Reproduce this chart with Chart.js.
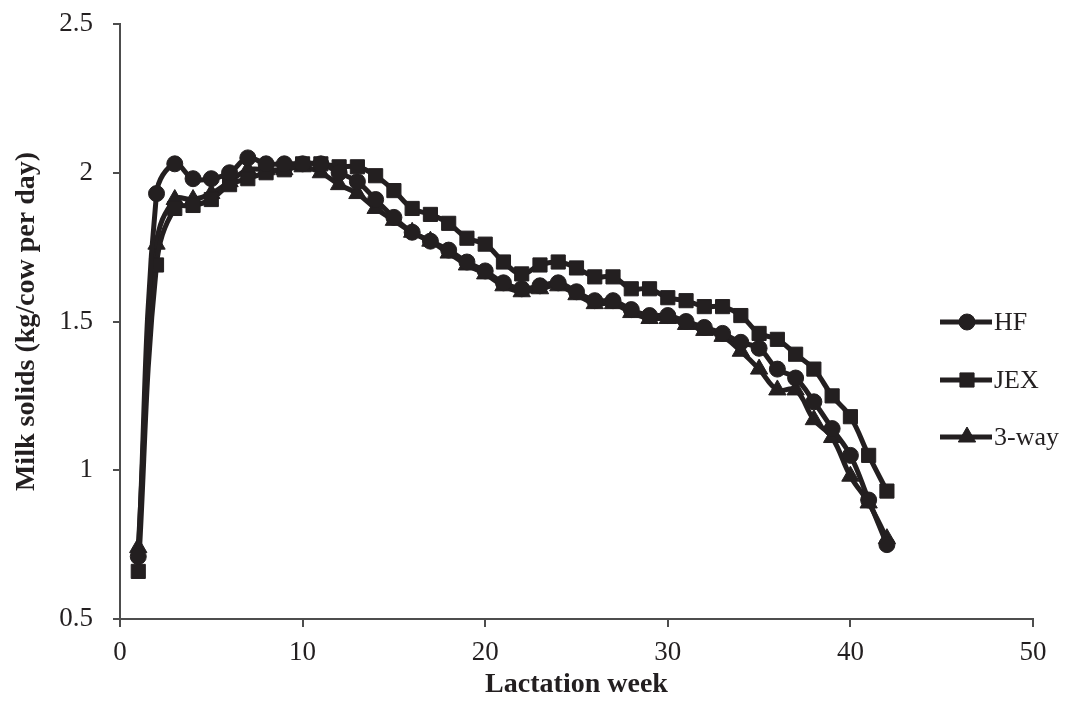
<!DOCTYPE html>
<html>
<head>
<meta charset="utf-8">
<script src="https://cdn.jsdelivr.net/npm/chart.js@4.4.0/dist/chart.umd.min.js"></script>
<style>
    html, body { margin: 0; padding: 0; background: #ffffff; }
    #wrap { position: relative; width: 1070px; height: 706px; }
</style>
</head>
<body>
<div id="wrap"><canvas id="milkChart" width="1070" height="706"></canvas></div>
<script>
// Lactation weeks 1..42
const weeks = [1, 2, 3, 4, 5, 6, 7, 8, 9, 10, 11, 12, 13, 14, 15, 16, 17, 18, 19, 20, 21,
    22, 23, 24, 25, 26, 27, 28, 29, 30, 31, 32, 33, 34, 35, 36, 37, 38, 39, 40, 41, 42];

// Milk solids (kg/cow per day)
const hfValues = [0.71, 1.93, 2.03, 1.98, 1.98, 2.00, 2.05, 2.03, 2.03, 2.03, 2.03, 2.00, 1.97,
    1.91, 1.85, 1.80, 1.77, 1.74, 1.70, 1.67, 1.63, 1.61, 1.62, 1.63, 1.60, 1.57, 1.57, 1.54,
    1.52, 1.52, 1.50, 1.48, 1.46, 1.43, 1.41, 1.34, 1.31, 1.23, 1.14, 1.05, 0.90, 0.75];
const jexValues = [0.66, 1.69, 1.88, 1.89, 1.91, 1.96, 1.98, 2.00, 2.01, 2.03, 2.03, 2.02, 2.02,
    1.99, 1.94, 1.88, 1.86, 1.83, 1.78, 1.76, 1.70, 1.66, 1.69, 1.70, 1.68, 1.65, 1.65, 1.61,
    1.61, 1.58, 1.57, 1.55, 1.55, 1.52, 1.46, 1.44, 1.39, 1.34, 1.25, 1.18, 1.05, 0.93];
const threeWayValues = [0.74, 1.76, 1.91, 1.91, 1.93, 1.97, 2.01, 2.01, 2.01, 2.02, 2.00, 1.96,
    1.93, 1.88, 1.84, 1.80, 1.77, 1.73, 1.69, 1.66, 1.62, 1.60, 1.61, 1.62, 1.59, 1.56, 1.56,
    1.53, 1.51, 1.51, 1.49, 1.47, 1.45, 1.40, 1.34, 1.27, 1.27, 1.17, 1.11, 0.98, 0.89, 0.77];

const seriesLabels = ['HF', 'JEX', '3-way'];
const markerStyles = ['circle', 'rect', 'triangle'];
const markerRadius = [8, 10, 10];

const ink = '#231f20';
const axisGrey = '#4d4d4d';
const serif = '"Liberation Serif", "Times New Roman", serif';

function toPoints(values) {
    return weeks.map((w, i) => ({ x: w, y: values[i] }));
}

// Legend drawn inside the plot, on the right, like the original
const sideLegend = {
    id: 'sideLegend',
    afterDraw(chart) {
        const ctx = chart.ctx;
        const rows = [322, 380, 437];
        ctx.save();
        chart.data.datasets.forEach((ds, i) => {
            const y = rows[i];
            ctx.strokeStyle = ink;
            ctx.lineWidth = 5;
            ctx.beginPath();
            ctx.moveTo(940, y);
            ctx.lineTo(992, y);
            ctx.stroke();
            ctx.fillStyle = ink;
            ctx.strokeStyle = ink;
            ctx.lineWidth = 1;
            Chart.helpers.drawPoint(ctx, {
                pointStyle: ds.pointStyle,
                radius: ds.pointRadius,
                borderWidth: 1
            }, 967, y);
            ctx.font = '26px ' + serif;
            ctx.textBaseline = 'middle';
            ctx.textAlign = 'left';
            ctx.fillText(ds.label, 994, y + 1);
        });
        ctx.restore();
    }
};

document.addEventListener('DOMContentLoaded', function() {
    const ctx = document.getElementById('milkChart');
    const valueSets = [hfValues, jexValues, threeWayValues];

    new Chart(ctx, {
        type: 'line',
        data: {
            datasets: valueSets.map((vals, i) => ({
                label: seriesLabels[i],
                data: toPoints(vals),
                borderColor: ink,
                backgroundColor: ink,
                borderWidth: 5,
                pointStyle: markerStyles[i],
                pointRadius: markerRadius[i],
                pointBorderWidth: 1,
                tension: 0.4,
                fill: false
            }))
        },
        options: {
            responsive: false,
            animation: false,
            layout: { padding: { top: 24, right: 37, left: 0, bottom: 0 } },
            plugins: {
                legend: { display: false },
                tooltip: { enabled: false }
            },
            scales: {
                x: {
                    type: 'linear',
                    min: 0,
                    max: 50,
                    ticks: {
                        stepSize: 10,
                        color: ink,
                        font: { family: serif, size: 27 },
                        padding: 10
                    },
                    grid: {
                        display: true,
                        drawOnChartArea: false,
                        drawTicks: true,
                        tickLength: 8,
                        color: axisGrey,
                        lineWidth: 2
                    },
                    border: { display: true, color: axisGrey, width: 2 },
                    title: {
                        display: true,
                        text: 'Lactation week',
                        color: ink,
                        font: { family: serif, size: 28, weight: 'bold' },
                        padding: { top: 3 }
                    },
                    afterFit(scale) {
                        scale.height = 87;
                        scale.paddingLeft = 0;
                        scale.paddingRight = 0;
                    }
                },
                y: {
                    min: 0.5,
                    max: 2.5,
                    ticks: {
                        stepSize: 0.5,
                        color: ink,
                        font: { family: serif, size: 27 },
                        padding: 20,
                        callback: function(value) { return String(value); }
                    },
                    grid: {
                        display: true,
                        drawOnChartArea: false,
                        drawTicks: true,
                        tickLength: 7,
                        color: axisGrey,
                        lineWidth: 2
                    },
                    border: { display: true, color: axisGrey, width: 2 },
                    title: {
                        display: true,
                        text: 'Milk solids (kg/cow per day)',
                        color: ink,
                        font: { family: serif, size: 28, weight: 'bold' },
                        padding: { top: 10, bottom: 4 }
                    },
                    afterFit(scale) {
                        scale.width = 120;
                        scale.paddingTop = 0;
                        scale.paddingBottom = 0;
                    }
                }
            }
        },
        plugins: [sideLegend]
    });
});
</script>
</body>
</html>
